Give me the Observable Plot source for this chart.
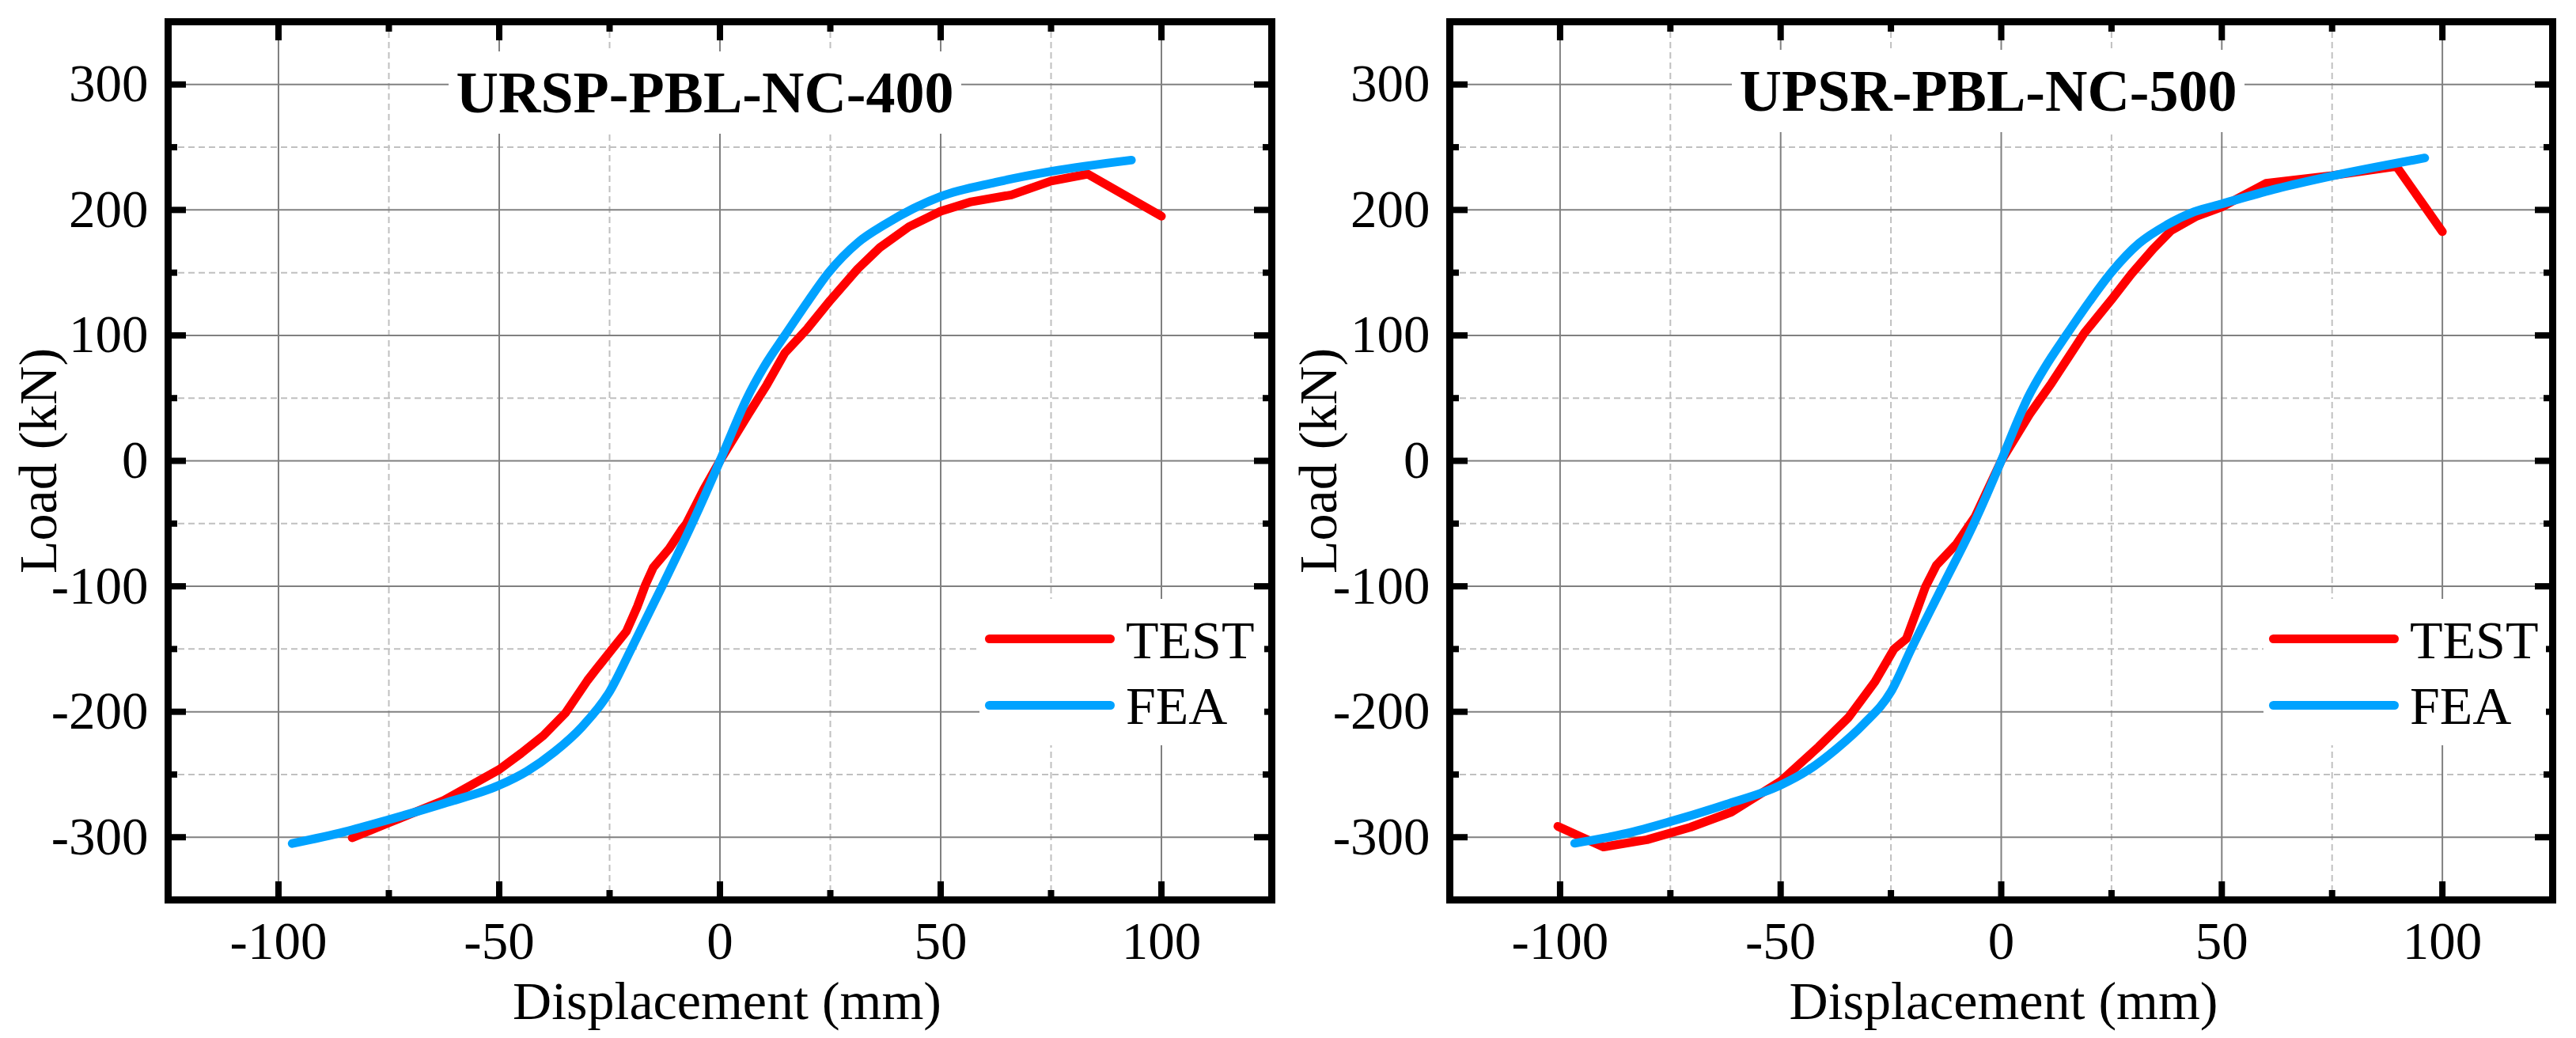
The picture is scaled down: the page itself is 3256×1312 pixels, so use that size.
<!DOCTYPE html>
<html>
<head>
<meta charset="utf-8">
<script src="https://cdn.jsdelivr.net/npm/d3@7"></script>
<script src="https://cdn.jsdelivr.net/npm/@observablehq/plot@0.6"></script>
<style>
html, body { margin: 0; padding: 0; background: #fff; }
#wrap { position: relative; width: 3256px; height: 1312px; overflow: hidden;
        font-family: "Liberation Serif", "Times New Roman", serif; color: #000; }
.panel { position: absolute; top: 0; }
.title { position: absolute; background: #fff; text-align: center; font-weight: bold;
         font-size: 74px; height: 104px; line-height: 104px; white-space: nowrap; }
.legend { position: absolute; background: #fff; }
.swatch { position: absolute; height: 11px; border-radius: 5.5px; }
.ltext { position: absolute; font-size: 68px; line-height: 68px; white-space: nowrap; }
</style>
</head>
<body>
<div id="wrap"></div>
<script>
// ---- tick values ----
const xMajor = [-100, -50, 0, 50, 100];
const xMinor = [-75, -25, 25, 75];
const yMajor = [-300, -200, -100, 0, 100, 200, 300];
const yMinor = [-250, -150, -50, 50, 150, 250];

// ---- series names ----
const seriesNames = ["TEST", "FEA"];
const seriesColors = ["#ff0000", "#00a2ff"];

// ---- URSP-PBL-NC-400 ----
const test400X = [-83.3, -75, -62.5, -50, -45, -40, -35, -30, -28, -24.4, -21.2, -18.7, -16.9, -15.1, -11.5, -8.7, -7.6, -3.7, 0, 6.4, 10.6, 14.7, 19.7, 25, 31.2, 36.2, 42.8, 50, 56.9, 66, 75, 83.3, 100];
const test400Y = [-300.5, -288.5, -270.6, -246, -233, -219, -201, -175, -166, -150, -136, -116, -99, -85, -70, -55, -50, -23, 0, 37, 60.5, 86, 105, 128, 153, 170, 186.6, 199, 206.5, 212, 223, 228.6, 195];
const fea400X = [-96.9, -85, -75, -62.5, -50, -43.75, -37.5, -31.25, -25, -20.1, -13.1, -6.3, 0, 3, 6, 10, 14.7, 20, 24.6, 31.25, 37.5, 43.75, 50, 62.5, 75, 93.2];
const fea400Y = [-305, -295.7, -286, -273, -258.6, -247.5, -232, -212, -184, -150, -100, -50, 0, 25, 49, 75, 100, 127.5, 150, 174, 188.7, 201, 210.7, 222, 230.7, 239.7];

// ---- UPSR-PBL-NC-500 ----
const test500X = [-100.5, -90.2, -80.3, -70.4, -61.2, -50, -41.4, -34.6, -28.6, -24.3, -21.5, -19, -17.2, -14.7, -10.1, -5.9, 0, 6.4, 11.4, 18.8, 25.1, 29.5, 34.4, 38.5, 44.3, 50, 60, 75, 89.6, 100];
const test500Y = [-291.3, -307.8, -302, -292, -280, -255.4, -228, -204.5, -176, -150, -141.8, -118, -100.6, -83.3, -66, -44.4, 0, 37, 61.9, 101.7, 129, 148.9, 168.8, 183.5, 195, 202.4, 221.2, 227.4, 234.7, 182.7];
const fea500X = [-96.7, -85, -75, -62.5, -50, -43.75, -37.5, -31.25, -25, -20.4, -13.3, -6.2, 0, 3, 6, 10, 14.7, 20, 25, 31.25, 37.5, 43.75, 50, 62.5, 75, 96];
const fea500Y = [-304.8, -297, -287.5, -274, -258.5, -246.5, -230, -210, -184, -150, -100, -50, 0, 26, 50, 75, 100, 127, 150.4, 173.4, 188, 198.5, 204.8, 217, 227.1, 241.4];

const FONT = '"Liberation Serif", "Times New Roman", serif';

const panels = [
  { title: "URSP-PBL-NC-400", testX: test400X, testY: test400Y, feaX: fea400X, feaY: fea400Y,
    left: 0, ml: 212, mr: 21, xlDx: 9, xlDy: 150, ylDx: -163,
    titleBox: { left: 567, top: 65, width: 648 },
    legendBox: { left: 1238, top: 757, width: 360, height: 185 } },
  { title: "UPSR-PBL-NC-500", testX: test500X, testY: test500Y, feaX: fea500X, feaY: fea500Y,
    left: 1628, ml: 204, mr: 30, xlDx: 3, xlDy: 150, ylDx: -165,
    titleBox: { left: 2189, top: 63, width: 648 },
    legendBox: { left: 2861, top: 757, width: 357, height: 185 } }
];

const wrap = document.getElementById("wrap");
const zip = (X, Y) => X.map((x, i) => ({ x, y: Y[i] }));

for (const p of panels) {
  const minorGrid = { stroke: "#c0c0c0", strokeOpacity: 1, strokeWidth: 2, strokeDasharray: "8,5" };
  const majorGrid = { stroke: "#808080", strokeOpacity: 1, strokeWidth: 2 };
  const tickMajor = { tickSize: -23, fill: "none", stroke: "#000", strokeWidth: 8, label: null };
  const tickMinor = { tickSize: -12, fill: "none", stroke: "#000", strokeWidth: 8, label: null };
  const fmt = (d) => String(d);

  const chart = Plot.plot({
    width: 1628,
    height: 1312,
    marginLeft: p.ml,
    marginRight: p.mr,
    marginTop: 27,
    marginBottom: 175,
    x: { domain: [-125, 125], axis: null },
    y: { domain: [-350, 350], axis: null },
    style: { fontFamily: FONT, background: "white", color: "black" },
    marks: [
      Plot.gridX(xMinor, minorGrid),
      Plot.gridY(yMinor, minorGrid),
      Plot.gridX(xMajor, majorGrid),
      Plot.gridY(yMajor, majorGrid),
      Plot.line(zip(p.testX, p.testY), { x: "x", y: "y", stroke: seriesColors[0], strokeWidth: 11,
        strokeLinecap: "round", strokeLinejoin: "round", curve: "linear" }),
      Plot.line(zip(p.feaX, p.feaY), { x: "x", y: "y", stroke: seriesColors[1], strokeWidth: 11,
        strokeLinecap: "round", strokeLinejoin: "round", curve: "monotone-x" }),
      Plot.frame({ stroke: "black", strokeWidth: 9 }),
      Plot.axisX(xMajor, { anchor: "bottom", ...tickMajor }),
      Plot.axisX(xMajor, { anchor: "top", ...tickMajor }),
      Plot.axisX(xMinor, { anchor: "bottom", ...tickMinor }),
      Plot.axisX(xMinor, { anchor: "top", ...tickMinor }),
      Plot.axisY(yMajor, { anchor: "left", ...tickMajor }),
      Plot.axisY(yMajor, { anchor: "right", ...tickMajor }),
      Plot.axisY(yMinor, { anchor: "left", ...tickMinor }),
      Plot.axisY(yMinor, { anchor: "right", ...tickMinor }),
      Plot.axisX(xMajor, { anchor: "bottom", tickSize: 0, tickPadding: 27, fontSize: 67,
        fontFamily: FONT, tickFormat: fmt, label: null }),
      Plot.axisY(yMajor, { anchor: "left", tickSize: 0, tickPadding: 25, fontSize: 67,
        fontFamily: FONT, tickFormat: fmt, label: null }),
      Plot.text(["Displacement (mm)"], { text: (d) => d, frameAnchor: "bottom", lineAnchor: "bottom",
        dx: p.xlDx, dy: p.xlDy, fontSize: 68, fontFamily: FONT, fill: "black" }),
      Plot.text(["Load (kN)"], { text: (d) => d, frameAnchor: "left", rotate: -90, textAnchor: "middle",
        lineAnchor: "middle", dx: p.ylDx, fontSize: 68, fontFamily: FONT, fill: "black" })
    ]
  });
  const holder = document.createElement("div");
  holder.className = "panel";
  holder.style.left = p.left + "px";
  holder.appendChild(chart);
  wrap.appendChild(holder);

  // title with white background box
  const t = document.createElement("div");
  t.className = "title";
  t.style.left = p.titleBox.left + "px";
  t.style.top = p.titleBox.top + "px";
  t.style.width = p.titleBox.width + "px";
  t.textContent = p.title;
  wrap.appendChild(t);

  // legend
  const lg = document.createElement("div");
  lg.className = "legend";
  lg.style.left = p.legendBox.left + "px";
  lg.style.top = p.legendBox.top + "px";
  lg.style.width = p.legendBox.width + "px";
  lg.style.height = p.legendBox.height + "px";
  seriesNames.forEach((name, i) => {
    const sw = document.createElement("div");
    sw.className = "swatch";
    sw.style.left = "7px";
    sw.style.width = "164px";
    sw.style.top = (45 + i * 84) + "px";
    sw.style.background = seriesColors[i];
    lg.appendChild(sw);
    const tx = document.createElement("div");
    tx.className = "ltext";
    tx.style.left = "185px";
    tx.style.top = (18 + i * 83) + "px";
    tx.textContent = name;
    lg.appendChild(tx);
  });
  wrap.appendChild(lg);
}
</script>
</body>
</html>
